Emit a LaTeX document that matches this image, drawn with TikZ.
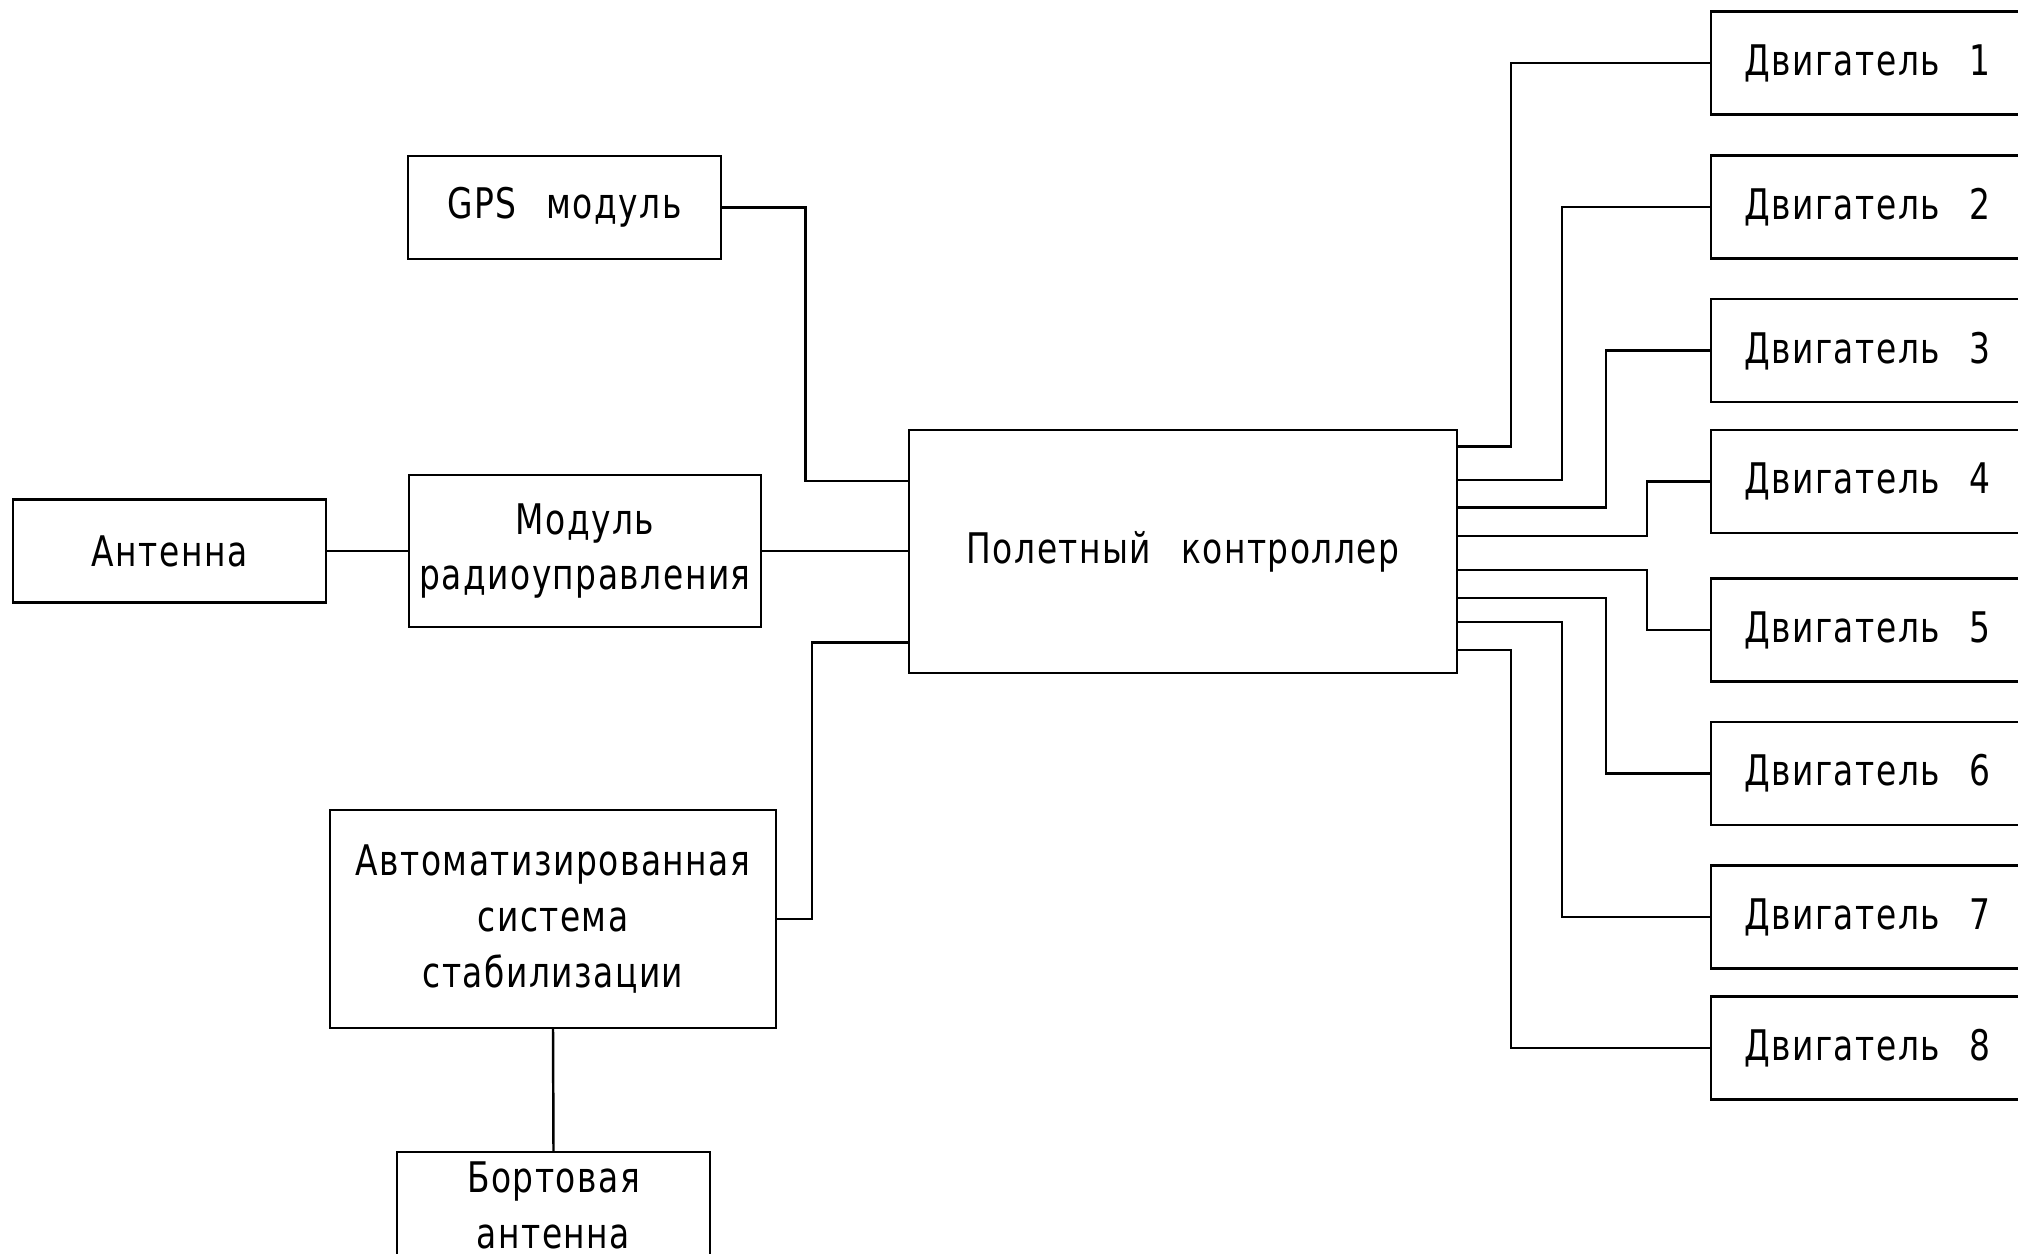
\documentclass[tikz,border=0pt]{standalone}
\usepackage{fontspec}
\newfontfamily\gost[FakeStretch=0.78,LetterSpace=3.5,WordSpace=2.5]{DejaVu Sans}
\begin{document}
\begin{tikzpicture}[x=1cm,y=1cm,line width=0.7pt,
  box/.style={draw, rectangle, inner sep=0pt, minimum width=3.13cm, minimum height=1.03cm,
    align=center, font=\fontsize{12}{15.9}\selectfont\gost},
  wire/.style={draw, line width=0.7pt}]
\useasboundingbox (0,0) rectangle (20.18,-12.54);
\fill[white] (0,0) rectangle (20.18,-12.54);

\node[box] (ant) at (1.695,-5.51) {Антенна};
\node[box, minimum width=3.52cm, minimum height=1.52cm] (radio) at (5.85,-5.51) {Модуль\\радиоуправления};
\node[box] (gps) at (5.645,-2.075) {GPS модуль};
\node[box, minimum width=4.46cm, minimum height=2.18cm] (ass) at (5.53,-9.19) {Автоматизированная\\система\\стабилизации};
\node[box, minimum height=1.06cm] (bort) at (5.535,-12.05) {Бортовая\\антенна};
\node[box, minimum width=5.48cm, minimum height=2.43cm] (ctrl) at (11.83,-5.515) {Полетный контроллер};

\foreach \i/\y in {1/0.63,2/2.07,3/3.507,4/4.814,5/6.30,6/7.735,7/9.17,8/10.48}
  \node[box] (m\i) at (18.675,-\y) {Двигатель \i};

\coordinate (pl1) at (9.09,-4.81);
\coordinate (pl3) at (9.09,-6.427);
\coordinate (r1) at (14.57,-4.467);
\coordinate (r2) at (14.57,-4.80);
\coordinate (r3) at (14.57,-5.073);
\coordinate (r4) at (14.57,-5.36);
\coordinate (r5) at (14.57,-5.70);
\coordinate (r6) at (14.57,-5.98);
\coordinate (r7) at (14.57,-6.22);
\coordinate (r8) at (14.57,-6.50);

\draw[wire] (ant.east) -- (radio.west);
\draw[wire] (radio.east) -- (radio.east -| ctrl.west);
\draw[wire] (gps.east) -- ++(0.834,0) |- (pl1);
\draw[wire] (ass.east) -- ++(0.35,0) |- (pl3);
\draw[wire] (ass.south) -- (bort.north);

\draw[wire] (r1) -- ++(0.54,0) |- (m1.west);
\draw[wire] (r2) -- ++(1.05,0) |- (m2.west);
\draw[wire] (r3) -- ++(1.49,0) |- (m3.west);
\draw[wire] (r4) -- ++(1.90,0) |- (m4.west);
\draw[wire] (r5) -- ++(1.90,0) |- (m5.west);
\draw[wire] (r6) -- ++(1.49,0) |- (m6.west);
\draw[wire] (r7) -- ++(1.05,0) |- (m7.west);
\draw[wire] (r8) -- ++(0.54,0) |- (m8.west);
\end{tikzpicture}
\end{document}
